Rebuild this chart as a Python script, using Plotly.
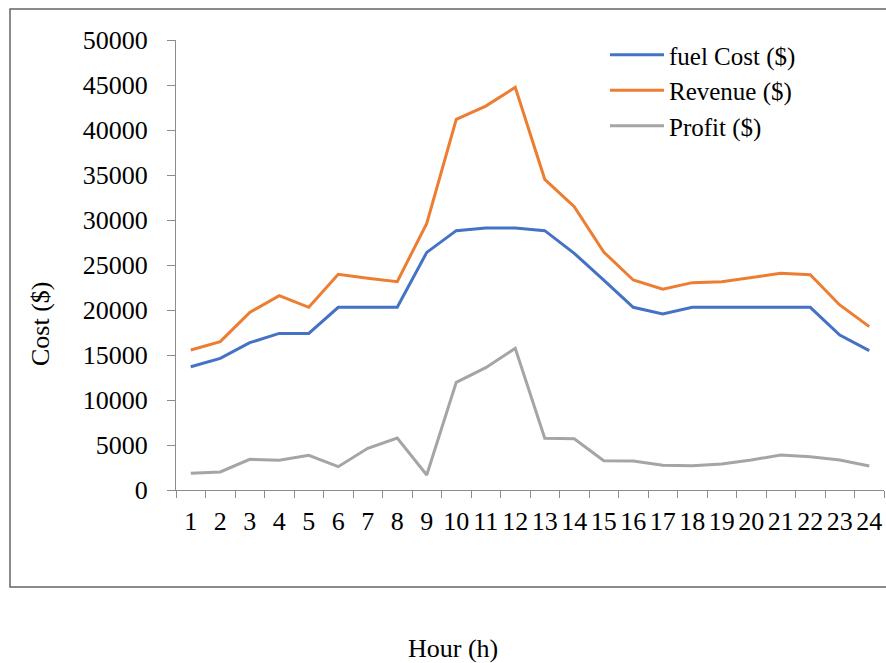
import plotly.graph_objects as go

hours = [str(h) for h in range(1, 25)]
fuel_cost = [13700, 14630, 16370, 17400, 17400, 20300, 20300, 20300, 26400, 28815,
             29100, 29100, 28815, 26300, 23330, 20300, 19550, 20300, 20300, 20300,
             20300, 20300, 17220, 15480]
revenue = [15550, 16480, 19740, 21590, 20300, 23960, 23520, 23150, 29630, 41180,
           42660, 44740, 34520, 31480, 26440, 23330, 22300, 23040, 23150, 23630,
           24070, 23930, 20560, 18150]
profit = [1850, 2000, 3410, 3300, 3850, 2590, 4630, 5780, 1670, 11960,
          13590, 15740, 5740, 5700, 3260, 3220, 2740, 2700, 2890, 3330,
          3890, 3700, 3330, 2670]

FONT = "Liberation Serif"
FS = 26
W, H = 886, 663
L, R, T, B = 176, 2, 40, 173
pw, ph = W - L - R, H - T - B

def px(x):
    return (x - L) / pw

def py(y):
    return (H - B - y) / ph

fig = go.Figure()
fig.add_trace(go.Scatter(x=hours, y=fuel_cost, name="fuel Cost ($)", mode="lines",
                         line=dict(color="#4472C4", width=3)))
fig.add_trace(go.Scatter(x=hours, y=revenue, name="Revenue ($)", mode="lines",
                         line=dict(color="#ED7D31", width=3)))
fig.add_trace(go.Scatter(x=hours, y=profit, name="Profit ($)", mode="lines",
                         line=dict(color="#A5A5A5", width=3)))

fig.update_layout(
    width=W, height=H,
    margin=dict(l=L, r=R, t=T, b=B, pad=0, autoexpand=False),
    paper_bgcolor="white", plot_bgcolor="white",
    font=dict(family=FONT, size=FS, color="black"),
    showlegend=True,
    legend=dict(x=px(605), y=py(32), xanchor="left", yanchor="top",
                bgcolor="rgba(0,0,0,0)", font=dict(family=FONT, size=25),
                itemwidth=54, tracegroupgap=0),
    xaxis=dict(type="category", tickson="boundaries", ticks="outside", ticklen=7,
               range=[-0.5, len(hours) - 0.5],
               tickmode="array", tickvals=hours, ticktext=hours,
               tickcolor="#8c8c8c", showline=True, linecolor="#8c8c8c", linewidth=1,
               showgrid=False, zeroline=False, tickangle=0, automargin=False,
               ticklabelstandoff=8, tickfont=dict(family=FONT, size=FS)),
    yaxis=dict(range=[0, 50000], dtick=5000, tickformat="d", ticks="outside", ticklen=8,
               tickcolor="#8c8c8c", showline=True, linecolor="#8c8c8c", linewidth=1,
               showgrid=False, zeroline=False, ticklabelstandoff=14, automargin=False,
               tickfont=dict(family=FONT, size=FS)),
    annotations=[
        dict(text="Cost ($)", x=px(40), y=py(324), xref="paper", yref="paper",
             showarrow=False, textangle=-90, xanchor="center", yanchor="middle",
             font=dict(family=FONT, size=FS)),
        dict(text="Hour (h)", x=px(453), y=py(648), xref="paper", yref="paper",
             showarrow=False, xanchor="center", yanchor="middle",
             font=dict(family=FONT, size=FS)),
    ],
    shapes=[
        dict(type="rect", xref="paper", yref="paper",
             x0=px(10), x1=px(895), y0=py(587), y1=py(9),
             line=dict(color="#666666", width=1.5), fillcolor="rgba(0,0,0,0)",
             layer="below"),
    ],
)

fig.write_html("out.html", config={"displayModeBar": False},
               post_script="document.body.style.margin='0';document.body.style.overflow='hidden';")
